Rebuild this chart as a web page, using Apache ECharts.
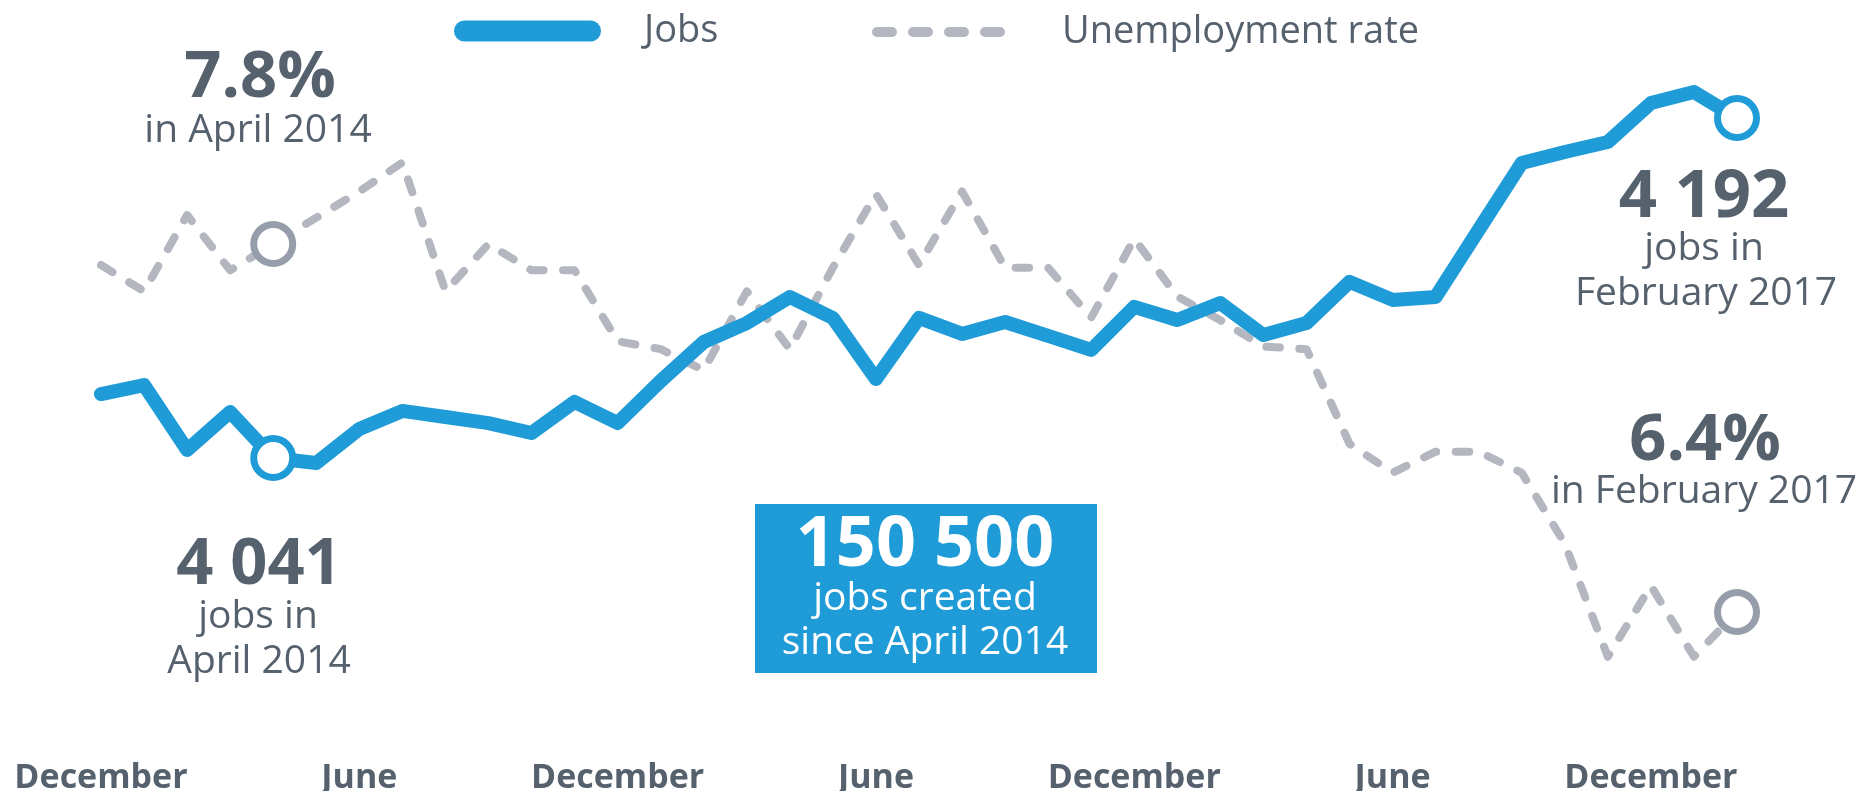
<!DOCTYPE html>
<html>
<head>
<meta charset="utf-8">
<title>Jobs and unemployment rate</title>
<script src="https://cdn.jsdelivr.net/npm/echarts@6/dist/echarts.min.js"></script>
<style>
  html, body { margin: 0; padding: 0; background: #fff; }
  #main { width: 1862px; height: 791px; }
</style>
</head>
<body>
<div id="main"></div>
<script>
// monthly points, December 2013 to February 2017
var months = [
  'Dec 2013',
  'Jan 2014', 'Feb 2014', 'Mar 2014', 'Apr 2014', 'May 2014', 'Jun 2014',
  'Jul 2014', 'Aug 2014', 'Sep 2014', 'Oct 2014', 'Nov 2014', 'Dec 2014',
  'Jan 2015', 'Feb 2015', 'Mar 2015', 'Apr 2015', 'May 2015', 'Jun 2015',
  'Jul 2015', 'Aug 2015', 'Sep 2015', 'Oct 2015', 'Nov 2015', 'Dec 2015',
  'Jan 2016', 'Feb 2016', 'Mar 2016', 'Apr 2016', 'May 2016', 'Jun 2016',
  'Jul 2016', 'Aug 2016', 'Sep 2016', 'Oct 2016', 'Nov 2016', 'Dec 2016',
  'Jan 2017', 'Feb 2017'
];

// jobs, in thousands
var jobs = [
  4069.4,
  4073.4, 4044.6, 4061.4, 4041.0, 4038.8, 4053.9,
  4061.9, 4059.2, 4056.5, 4052.1, 4065.9, 4056.5,
  4075.2, 4092.5, 4100.9, 4112.5, 4103.2, 4076.1,
  4103.2, 4096.1, 4101.4, 4095.2, 4089.0, 4108.1,
  4102.3, 4109.8, 4095.6, 4100.9, 4119.2, 4111.2,
  4112.5, 4142.3, 4172.0, 4176.9, 4181.3, 4198.6,
  4203.5, 4192.0
];

// unemployment rate, %
var unemployment = [
  7.72,
  7.62, 7.91, 7.70, 7.80, 7.90, 8.00,
  8.11, 7.62, 7.80, 7.70, 7.70, 7.43,
  7.40, 7.32, 7.62, 7.40, 7.71, 7.99,
  7.72, 8.00, 7.71, 7.71, 7.52, 7.82,
  7.60, 7.51, 7.41, 7.40, 7.04, 6.93,
  7.01, 7.01, 6.93, 6.66, 6.23, 6.50,
  6.23, 6.40
];

// months that get a hollow marker
var markedMonths = ['Apr 2014', 'Feb 2017'];

// x axis labels
var tickMonths = ['Dec 2013', 'Jun 2014', 'Dec 2014', 'Jun 2015', 'Dec 2015', 'Jun 2016', 'Dec 2016'];
var tickNames = ['December', 'June', 'December', 'June', 'December', 'June', 'December'];

var BLUE = '#1f9bd7';
var GRAY = '#b4b7c0';
var GRAY_MARK = '#969eab';
var TEXT = '#56616e';
var FONT = '"Open Sans", "Noto Sans", sans-serif';

function withMarkers(values, color) {
  return values.map(function (v, i) {
    if (markedMonths.indexOf(months[i]) >= 0) {
      return {
        value: v,
        symbol: 'circle',
        symbolSize: 39,
        itemStyle: { color: '#fff', borderColor: color, borderWidth: 7 }
      };
    }
    return { value: v, symbol: 'none' };
  });
}

function note(text, x, y, size, bold, color) {
  return {
    type: 'text',
    x: x,
    y: y,
    z: 20,
    style: {
      text: text,
      fill: color || TEXT,
      fontSize: size,
      fontWeight: bold ? 'bold' : 'normal',
      fontFamily: FONT,
      align: 'center',
      verticalAlign: 'middle'
    }
  };
}

// legend swatches
var pillIcon = 'path://M10.5,0H136.5A10.5,10.5,0,0,1,136.5,21H10.5A10.5,10.5,0,0,1,10.5,0Z';
var dashIcon = 'path://' + [0, 36, 72, 108].map(function (x0) {
  return 'M' + (x0 + 5) + ',0H' + (x0 + 20) + 'A5,5,0,0,1,' + (x0 + 20) + ',10H' + (x0 + 5) + 'A5,5,0,0,1,' + (x0 + 5) + ',0Z';
}).join('');

var myChart = echarts.init(document.getElementById('main'));

var option = {
  animation: false,
  backgroundColor: '#fff',
  legend: [
    {
      left: 454,
      top: 12,
      padding: 0,
      itemWidth: 147,
      itemHeight: 21,
      selectedMode: false,
      data: [{ name: 'Jobs', icon: pillIcon, itemStyle: { color: BLUE, borderWidth: 0 } }],
      textStyle: { color: TEXT, fontSize: 38, fontFamily: FONT, padding: [0, 0, 0, 38] }
    },
    {
      left: 872,
      top: 13,
      padding: 0,
      itemWidth: 133,
      itemHeight: 10,
      selectedMode: false,
      data: [{ name: 'Unemployment rate', icon: dashIcon, itemStyle: { color: GRAY, borderWidth: 0 } }],
      textStyle: { color: TEXT, fontSize: 38, fontFamily: FONT, padding: [0, 0, 0, 52] }
    }
  ],
  grid: {
    left: 101,
    right: 125,
    top: 80,
    bottom: 91,
    containLabel: false,
    outerBoundsMode: 'none'
  },
  xAxis: {
    type: 'category',
    data: months,
    boundaryGap: false,
    axisLine: { show: false },
    axisTick: { show: false },
    splitLine: { show: false },
    axisLabel: {
      interval: function (index, value) { return tickMonths.indexOf(value) >= 0; },
      formatter: function (value) { return tickNames[tickMonths.indexOf(value)]; },
      margin: 61,
      color: TEXT,
      fontSize: 34,
      fontWeight: 'bold',
      fontFamily: FONT
    }
  },
  yAxis: [
    { type: 'value', min: 3933.54, max: 4208.85, show: false, splitLine: { show: false } },
    { type: 'value', min: 6.0655, max: 8.4238, show: false, splitLine: { show: false } }
  ],
  series: [
    {
      name: 'Unemployment rate',
      type: 'line',
      yAxisIndex: 1,
      data: withMarkers(unemployment, GRAY_MARK),
      symbol: 'circle',
      showSymbol: true,
      showAllSymbol: true,
      clip: false,
      silent: true,
      z: 2,
      itemStyle: { color: GRAY },
      lineStyle: { color: GRAY, width: 8, type: [13.5, 19.5], cap: 'round', join: 'round' },
      emphasis: { disabled: true }
    },
    {
      name: 'Jobs',
      type: 'line',
      yAxisIndex: 0,
      data: withMarkers(jobs, BLUE),
      symbol: 'circle',
      showSymbol: true,
      showAllSymbol: true,
      clip: false,
      silent: true,
      z: 3,
      itemStyle: { color: BLUE },
      lineStyle: { color: BLUE, width: 14, cap: 'round', join: 'round' },
      emphasis: { disabled: true }
    }
  ],
  graphic: [
    note('7.8%', 260, 78, 65, true),
    note('in April 2014', 258, 131, 39),
    note('4 041', 259, 565, 65, true),
    note('jobs in', 258, 617, 39),
    note('April 2014', 259, 662, 39),
    {
      type: 'rect',
      z: 10,
      shape: { x: 755, y: 504, width: 342, height: 169 },
      style: { fill: BLUE }
    },
    note('150 500', 925, 546, 70, true, '#fff'),
    note('jobs created', 925, 599, 39, false, '#fff'),
    note('since April 2014', 925, 643, 39, false, '#fff'),
    note('4 192', 1704, 198, 67, true),
    note('jobs in', 1704, 249, 39),
    note('February 2017', 1706, 294, 39),
    note('6.4%', 1705, 441, 65, true),
    note('in February 2017', 1704, 492, 39)
  ]
};

myChart.setOption(option);
</script>
</body>
</html>
